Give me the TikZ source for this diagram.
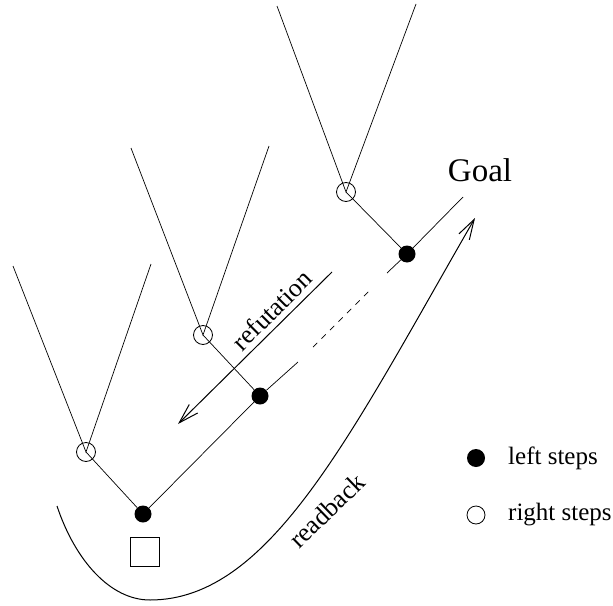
\documentclass[tikz,border=0pt]{standalone}
\usepackage{fontspec}
\setmainfont{Liberation Serif}
\usetikzlibrary{arrows.meta}
\tikzset{
	leftstep/.style={circle,fill=black,inner sep=0pt,minimum size=17pt},
	rightstep/.style={circle,draw=black,line width=0.8pt,inner sep=0pt,minimum size=19pt},
	branch/.style={line width=0.7pt},
	bigarrow/.style={line width=1pt,-{Straight Barb[length=20pt,width=12pt]}},
	label/.style={font=\fontsize{26}{30}\selectfont,inner sep=0pt},
	legendtext/.style={font=\fontsize{25}{30}\selectfont,anchor=west,inner sep=0pt}
}
\begin{document}
\begin{tikzpicture}[x=1pt,y=-1pt]
		\useasboundingbox (0,0) rectangle (613,605);
	
		% left and right steps
		\node[rightstep] (r1) at (86,452) {};
		\node[rightstep] (r2) at (203,335) {};
		\node[rightstep] (r3) at (346,192) {};
		\node[leftstep] (l1) at (143,514) {};
		\node[leftstep] (l2) at (260,396) {};
		\node[leftstep] (l3) at (407,254) {};
		\node[draw,line width=0.8pt,minimum size=29pt,inner sep=0pt] (start) at (144.5,552) {};
		
		% open branches
		\coordinate (t1a) at (13,266);  \coordinate (t1b) at (151,264);
		\coordinate (t2a) at (131,148); \coordinate (t2b) at (269,146);
		\coordinate (t3a) at (277,6);   \coordinate (t3b) at (416,4);
		\draw[branch] (t1a) -- (r1.center) -- (t1b);
		\draw[branch] (t2a) -- (r2.center) -- (t2b);
		\draw[branch] (t3a) -- (r3.center) -- (t3b);
		
		\draw[branch] (r1.center) -- (l1);
		\draw[branch] (r2.center) -- (l2);
		\draw[branch] (r3.center) -- (l3);
		
		% main line
		\coordinate (m1) at (298,362);
		\coordinate (m2) at (313,347);
		\coordinate (m3) at (370,290);
		\coordinate (m4) at (387,273);
		\coordinate (goalend) at (463,197);
		\draw[branch] (l1) -- (l2) -- (m1);
		\draw[branch,dash pattern=on 6pt off 6pt] (m2) -- (m3);
		\draw[branch] (m4) -- (l3) -- (goalend);
		
		\node[font=\fontsize{33}{36}\selectfont] (goal) at (480,170) {Goal};
		
		% refutation
		\coordinate (refa) at (332,272);
		\coordinate (refb) at (178,424);
		\draw[bigarrow] (refa) -- (refb);
		\node[label,rotate=45] (reftext) at (272,310) {refutation};
		
		% readback
		\coordinate (rb0) at (57,506);
		\coordinate (rb1) at (150,600);
		\coordinate (rb2) at (475,218);
		\draw[bigarrow] (rb0) .. controls (75,560) and (110,600) .. (rb1)
			.. controls (270,600) and (350,435) .. (rb2);
		\node[label,rotate=44] (rbtext) at (327,511) {readback};
		
		% legend
		\node[leftstep,minimum size=18pt] (keyl) at (476,458) {};
		\node[rightstep,minimum size=18pt] (keyr) at (476,515) {};
		\node[legendtext] (keyltext) at (508,458) {left steps};
		\node[legendtext] (keyrtext) at (508,515) {right steps};
	\end{tikzpicture}
\end{document}
